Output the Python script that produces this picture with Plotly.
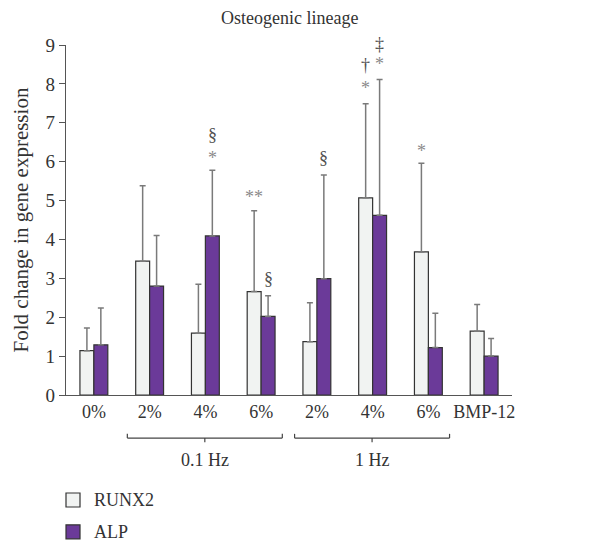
import plotly.graph_objects as go

# ---- data ----
categories = ["0%", "2%", "4%", "6%", "2%", "4%", "6%", "BMP-12"]
runx2 = [1.14, 3.44, 1.59, 2.66, 1.37, 5.07, 3.68, 1.64]
runx2_err_top = [1.72, 5.38, 2.85, 4.74, 2.37, 7.49, 5.96, 2.33]
alp = [1.29, 2.80, 4.09, 2.02, 2.99, 4.62, 1.22, 1.00]
alp_err_top = [2.24, 4.10, 5.78, 2.55, 5.66, 8.11, 2.10, 1.45]

# significance marks: (group index, series, label, y value)
marks = [
    (2, "ALP", "*", 6.09), (2, "ALP", "§", 6.68),
    (3, "RUNX2", "**", 5.09),
    (3, "ALP", "§", 2.98),
    (4, "ALP", "§", 6.09),
    (5, "RUNX2", "*", 7.90), (5, "RUNX2", "†", 8.48),
    (5, "ALP", "*", 8.50), (5, "ALP", "‡", 9.03),
    (6, "RUNX2", "*", 6.27),
]
# frequency brackets: (label, first group, last group)
groups = [("0.1 Hz", 1, 3), ("1 Hz", 4, 6)]
series_names = ["RUNX2", "ALP"]
series_colors = ["#f1f3f2", "#6b3a99"]

FONT = "Liberation Serif"
FS = 18
YMAX = 9
EDGE = "#333333"
x = list(range(len(categories)))

fig = go.Figure()
for name, col, vals, tops in [(series_names[0], series_colors[0], runx2, runx2_err_top),
                              (series_names[1], series_colors[1], alp, alp_err_top)]:
    fig.add_trace(go.Bar(
        x=x, y=vals, name=name, showlegend=False,
        marker=dict(color=col, line=dict(color=EDGE, width=1.2)),
        error_y=dict(type="data", symmetric=False,
                     array=[t - v for t, v in zip(tops, vals)],
                     arrayminus=[0] * len(vals),
                     color="#7a7a7a", thickness=1.5, width=3),
    ))

annotations = []
off = {"RUNX2": -0.125, "ALP": 0.125}
for g, s, lab, yv in marks:
    col = "#8a8a8a" if "*" in lab else "#505050"
    annotations.append(dict(x=g + off[s], y=yv / YMAX, xref="x", yref="paper", text=lab,
                            showarrow=False, yanchor="middle",
                            font=dict(family=FONT, size=FS, color=col)))

shapes = []
by, hook, tick = -0.123, 0.012, 0.012
for lab, a, b in groups:
    x0, x1 = a - 0.4, b + 0.38
    xc = (x0 + x1) / 2
    shapes.append(dict(type="line", xref="x", yref="paper", x0=x0, x1=x1, y0=by, y1=by,
                       line=dict(color="#444444", width=1.2)))
    for xx in (x0, x1):
        shapes.append(dict(type="line", xref="x", yref="paper", x0=xx, x1=xx, y0=by, y1=by + hook,
                           line=dict(color="#444444", width=1.2)))
    shapes.append(dict(type="line", xref="x", yref="paper", x0=xc, x1=xc, y0=by, y1=by - tick,
                       line=dict(color="#444444", width=1.2)))
    annotations.append(dict(x=xc, y=-0.186, xref="x", yref="paper", text=lab,
                            showarrow=False, yanchor="middle",
                            font=dict(family=FONT, size=FS, color="#333333")))

# legend (drawn as key boxes + labels below the chart)
for i, (name, col) in enumerate(zip(series_names, series_colors)):
    yc = -0.30 - i * 0.091
    shapes.append(dict(type="rect", xref="paper", yref="paper",
                       x0=0.0, x1=0.0314, y0=yc - 0.02, y1=yc + 0.02,
                       fillcolor=col, line=dict(color=EDGE, width=1.2)))
    annotations.append(dict(x=0.058, y=yc, xref="paper", yref="paper", text=name,
                            showarrow=False, xanchor="left", yanchor="middle",
                            font=dict(family=FONT, size=FS, color="#333333")))

annotations.append(dict(x=0.5, y=1.078, xref="paper", yref="paper", text="Osteogenic lineage",
                        showarrow=False, yanchor="middle",
                        font=dict(family=FONT, size=FS, color="#333333")))

fig.update_layout(
    width=611, height=544,
    # page body adds 8px offset; margins compensate so plot area sits at 66..512 x 45..395
    margin=dict(l=58, r=107, t=37, b=157),
    plot_bgcolor="white", paper_bgcolor="white",
    barmode="group", bargap=0.5, bargroupgap=0.0,
    font=dict(family=FONT, size=FS, color="#333333"),
    showlegend=False,
    annotations=annotations, shapes=shapes,
)
fig.update_xaxes(range=[-0.5, 7.5], tickvals=x, ticktext=categories, tickangle=0,
                 showline=True, linecolor="#555555", linewidth=1.2,
                 ticks="", showgrid=False, zeroline=False,
                 tickfont=dict(family=FONT, size=FS, color="#333333"))
fig.update_yaxes(range=[0, YMAX], dtick=1, showline=True, linecolor="#555555", linewidth=1.2,
                 ticks="outside", ticklen=6, tickcolor="#555555", tickwidth=1.2,
                 showgrid=False, zeroline=False,
                 title=dict(text="Fold change in gene expression", standoff=11,
                            font=dict(family=FONT, size=21, color="#333333")),
                 tickfont=dict(family=FONT, size=19, color="#333333"))

fig.write_html("out.html")
